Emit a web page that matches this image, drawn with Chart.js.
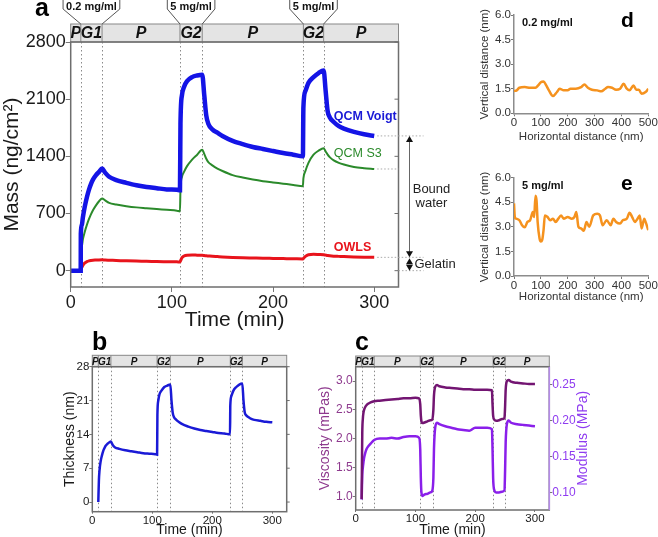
<!DOCTYPE html>
<html>
<head>
<meta charset="utf-8">
<script src="https://cdn.jsdelivr.net/npm/chart.js@4.4.1/dist/chart.umd.min.js"></script>
<style>
  body { margin: 0; background: #fff; width: 658px; height: 537px; position: relative; overflow: hidden; }
  canvas { position: absolute; }
</style>
</head>
<body>
<canvas id="chartA" width="460" height="335" style="left:0;top:0"></canvas>
<canvas id="chartB" width="320" height="207" style="left:0;top:330px"></canvas>
<canvas id="chartC" width="300" height="207" style="left:300px;top:330px"></canvas>
<canvas id="chartD" width="188" height="150" style="left:470px;top:0"></canvas>
<canvas id="chartE" width="188" height="150" style="left:470px;top:160px"></canvas>
<script>
const FONT = "'Liberation Sans', Arial, Helvetica, sans-serif";

// --- data: panels a + b share one time base (min) ---
const timeMin = [0, 9.9, 10, 11, 12, 14, 16, 18, 20, 22, 25, 28, 31, 34, 38, 45, 55, 65, 75, 85,
  95, 105, 108, 108.5, 110, 112, 115, 120, 125, 130, 132, 134, 136, 140, 145, 150, 160, 170, 180, 190,
  200, 210, 220, 229.5, 230, 232, 235, 240, 245, 250, 252, 254, 256, 260, 265, 270, 280, 290, 300];
const qcmVoigt = [0, 0, 450, 560, 650, 790, 900, 990, 1060, 1115, 1170, 1210, 1250, 1200, 1150, 1110, 1075, 1045, 1025, 1010,
  995, 990, 985, 1800, 2150, 2250, 2320, 2370, 2390, 2400, 2150, 1900, 1800, 1730, 1690, 1650, 1590, 1550, 1515, 1490,
  1465, 1440, 1420, 1400, 2000, 2200, 2300, 2370, 2420, 2450, 2200, 1950, 1880, 1820, 1770, 1740, 1700, 1670, 1650];
const qcmS3 = [0, 0, 200, 300, 380, 480, 560, 630, 690, 740, 800, 850, 885, 860, 830, 810, 790, 775, 765, 755,
  745, 735, 725, 1000, 1150, 1210, 1280, 1360, 1420, 1480, 1430, 1370, 1330, 1290, 1250, 1220, 1170, 1140, 1115, 1095,
  1080, 1065, 1050, 1035, 1130, 1220, 1320, 1420, 1470, 1500, 1460, 1420, 1390, 1350, 1320, 1300, 1270, 1255, 1245];
const owls = [0, 0, 10, 40, 65, 95, 110, 120, 125, 128, 130, 132, 133, 130, 128, 125, 120, 117, 115, 112,
  110, 108, 106, 120, 160, 180, 190, 192, 190, 188, 185, 182, 180, 176, 172, 168, 162, 158, 155, 152,
  150, 148, 146, 143, 150, 175, 195, 200, 198, 195, 190, 185, 182, 178, 175, 172, 168, 165, 163];
const thickness = [null, null, 0, 4.5, 6.5, 8.5, 9.6, 10.5, 11.1, 11.6, 12, 12.3, 12.5, 11.8, 11.3, 11, 10.7, 10.5, 10.3, 10.1,
  10, 9.9, 9.8, 18, 21, 22.3, 23, 23.8, 24.1, 24.3, 21, 18.5, 17.6, 17, 16.5, 16.1, 15.6, 15.2, 14.9, 14.7,
  14.5, 14.3, 14.2, 14, 20, 22, 23, 23.8, 24.3, 24.5, 21, 18.6, 18, 17.6, 17.2, 17, 16.8, 16.6, 16.5];

// --- panel c ---
const timeC = [10, 10.5, 11, 12, 13, 14, 16, 18, 20, 25, 31, 40, 50, 60, 70, 80, 90, 100, 106, 108,
  109, 110, 112, 115, 120, 125, 128, 130, 131, 133, 136, 140, 150, 160, 170, 180, 190, 200, 210, 220,
  228, 229, 230, 232, 235, 240, 245, 249, 250, 251, 253, 256, 260, 270, 280, 290, 300];
const viscosity = [0.95, 1.6, 2.1, 2.35, 2.45, 2.5, 2.55, 2.58, 2.6, 2.63, 2.65, 2.66, 2.67, 2.68, 2.69, 2.7, 2.7, 2.71, 2.7, 2.6,
  2.4, 2.3, 2.27, 2.28, 2.3, 2.32, 2.33, 2.5, 2.75, 2.9, 2.93, 2.91, 2.89, 2.88, 2.87, 2.86, 2.86, 2.85, 2.85, 2.85,
  2.84, 2.6, 2.4, 2.33, 2.31, 2.32, 2.34, 2.36, 2.55, 2.85, 3.0, 3.02, 2.99, 2.97, 2.96, 2.95, 2.95];
const modulus = [0.09, 0.11, 0.125, 0.135, 0.142, 0.148, 0.155, 0.16, 0.163, 0.168, 0.173, 0.175, 0.175, 0.176, 0.175, 0.177, 0.178, 0.178, 0.176, 0.16,
  0.12, 0.1, 0.095, 0.097, 0.098, 0.1, 0.102, 0.12, 0.16, 0.19, 0.197, 0.195, 0.192, 0.19, 0.188, 0.187, 0.186, 0.19, 0.19, 0.19,
  0.188, 0.16, 0.12, 0.103, 0.1, 0.1, 0.101, 0.103, 0.13, 0.17, 0.195, 0.2, 0.197, 0.195, 0.194, 0.193, 0.192];

// --- panels d, e (AFM profiles) ---
const distD = [0, 10, 20, 40, 60, 80, 90, 100, 110, 120, 130, 145, 160, 170, 185, 200, 210, 230, 250, 262,
  275, 290, 310, 325, 340, 350, 365, 380, 395, 408, 420, 430, 445, 455, 465, 475, 490, 500];
const heightD = [1.36, 1.4, 1.56, 1.6, 1.56, 1.56, 1.7, 1.9, 1.94, 1.7, 1.4, 1.05, 1.3, 1.5, 1.4, 1.4, 1.5, 1.5, 1.6, 1.76,
  1.56, 1.44, 1.4, 1.34, 1.5, 1.6, 1.56, 1.44, 1.5, 1.8, 1.5, 1.4, 1.7, 1.44, 1.44, 1.2, 1.3, 1.5];
const distE = [0, 3, 8, 20, 30, 40, 50, 60, 70, 75, 80, 84, 88, 95, 100, 105, 110, 115, 125, 135,
  145, 155, 165, 175, 185, 200, 215, 225, 232, 240, 250, 260, 270, 280, 295, 310, 320, 330, 345, 360,
  370, 380, 395, 405, 420, 430, 440, 450, 460, 468, 475, 485, 490, 500];
const heightE = [4.43, 3.6, 3.5, 3.4, 3.1, 2.97, 3.3, 3.4, 3.9, 3.6, 4.9, 4.6, 3.3, 2.3, 2.1, 2.2, 2.8, 3.7, 3.6, 3.4,
  3.5, 3.3, 3.5, 3.7, 3.5, 3.6, 3.5, 3.6, 3.9, 3.0, 2.9, 2.76, 3.3, 3.0, 3.7, 3.8, 3.7, 3.1, 3.4, 3.1,
  3.5, 3.3, 3.2, 3.4, 3.5, 3.86, 3.6, 3.3, 3.5, 3.7, 2.9, 3.5, 3.3, 2.8];

// --- phases, concentrations, ticks ---
const phaseEdges = [0, 10, 31, 108, 130, 230, 250, 324];
const phaseNames = ['P', 'G1', 'P', 'G2', 'P', 'G2', 'P'];
const concText = ['0.2 mg/ml', '5 mg/ml', '5 mg/ml'];
const concStart = [10, 108, 230];
const concEnd = [31, 130, 250];
const timeTicks = [0, 100, 200, 300];
const massTicks = [0, 700, 1400, 2100, 2800];
const thickTicks = [0, 7, 14, 21, 28];
const viscTicks = [1.0, 1.5, 2.0, 2.5, 3.0];
const modTicks = [0.10, 0.15, 0.20, 0.25];
const distTicks = [0, 100, 200, 300, 400, 500];
const heightTicks = [0, 1.5, 3.0, 4.5, 6.0];

function series(xs, ys, color, width, axisId) {
  return {
    data: xs.map((t, i) => ({ x: t, y: ys[i] })),
    borderColor: color, backgroundColor: color, borderWidth: width,
    pointRadius: 0, fill: false, cubicInterpolationMode: 'monotone',
    yAxisID: axisId || 'y'
  };
}

function linAxis(o) {
  return {
    type: 'linear', position: o.position, min: o.min, max: o.max,
    afterBuildTicks: s => { s.ticks = o.ticks.map(v => ({ value: v })); },
    afterFit: s => { if (o.horizontal) s.height = o.size; else s.width = o.size; },
    grid: { display: true, drawOnChartArea: false, drawTicks: true, tickLength: o.tickLen, color: '#777', lineWidth: 1 },
    border: { display: !!o.border, color: '#8c8c8c', width: 1.5 },
    ticks: {
      color: o.color || '#1a1a1a', padding: o.pad || 0, autoSkip: false, maxRotation: 0,
      font: { family: FONT, size: o.fontSize }, callback: o.fmt || (v => v)
    },
    title: {
      display: !!o.title, text: o.title, color: o.titleColor || o.color || '#1a1a1a',
      font: { family: FONT, size: o.titleSize, lineHeight: o.titleLH || 1.2 }, padding: o.titlePad
    }
  };
}

function baseOptions(padding, scales) {
  return {
    responsive: false, animation: false, devicePixelRatio: 1, events: [],
    layout: { padding },
    plugins: { legend: { display: false }, tooltip: { enabled: false } },
    scales
  };
}

// phase band on top, dotted phase boundaries, boxed frame
function phasePlugin(bandH, fontSize, spine) {
  return {
    id: 'phases',
    beforeDatasetsDraw(chart) {
      const { ctx, chartArea: area, scales: { x } } = chart;
      ctx.save();
      ctx.strokeStyle = '#8a8a8a';
      ctx.lineWidth = 1;
      ctx.setLineDash([1.5, 2.5]);
      phaseEdges.slice(1, -1).forEach(t => {
        const px = Math.round(x.getPixelForValue(t)) + 0.5;
        ctx.beginPath(); ctx.moveTo(px, area.top); ctx.lineTo(px, area.bottom); ctx.stroke();
      });
      ctx.restore();
    },
    afterDraw(chart) {
      const { ctx, chartArea: area, scales: { x, y } } = chart;
      const top = area.top - bandH;
      const w = area.right - area.left;
      ctx.save();
      ctx.fillStyle = '#e4e4e4';
      ctx.fillRect(area.left, top, w, bandH);
      ctx.strokeStyle = '#888';
      ctx.lineWidth = 1;
      ctx.strokeRect(area.left, top, w, bandH);
      ctx.font = `italic bold ${fontSize}px ${FONT}`;
      ctx.fillStyle = '#111';
      ctx.textAlign = 'center';
      ctx.textBaseline = 'middle';
      phaseNames.forEach((name, i) => {
        const x0 = x.getPixelForValue(phaseEdges[i]);
        const x1 = Math.min(x.getPixelForValue(phaseEdges[i + 1]), area.right);
        if (i > 0) {
          ctx.beginPath(); ctx.moveTo(x0, top); ctx.lineTo(x0, area.top); ctx.stroke();
        }
        ctx.fillText(name, (x0 + x1) / 2, top + bandH / 2 + 1);
      });
      ctx.strokeStyle = '#6e6e6e';
      ctx.lineWidth = 1.5;
      ctx.strokeRect(area.left, area.top, w, area.bottom - area.top);
      if (spine) {
        ctx.lineWidth = 1;
        spine.values.forEach(v => {
          const py = y.getPixelForValue(v);
          ctx.beginPath(); ctx.moveTo(area.right, py); ctx.lineTo(area.right + spine.len, py); ctx.stroke();
        });
        if (spine.color) {
          ctx.strokeStyle = spine.color;
          ctx.lineWidth = 1.5;
          ctx.beginPath(); ctx.moveTo(area.right, area.top); ctx.lineTo(area.right, area.bottom); ctx.stroke();
        }
      }
      ctx.restore();
    }
  };
}

function letterPlugin(letter, px, py, size) {
  return {
    id: 'letter',
    afterDraw(chart) {
      const ctx = chart.ctx;
      ctx.save();
      ctx.font = `bold ${size}px ${FONT}`;
      ctx.fillStyle = '#000';
      ctx.textAlign = 'left';
      ctx.textBaseline = 'alphabetic';
      ctx.fillText(letter, px, py);
      ctx.restore();
    }
  };
}

function sampleLabel(text) {
  return {
    id: 'sample',
    afterDraw(chart) {
      const { ctx, chartArea: area } = chart;
      ctx.save();
      ctx.font = `bold 11px ${FONT}`;
      ctx.fillStyle = '#111';
      ctx.textBaseline = 'middle';
      ctx.fillText(text, area.left + 8, area.top + 8);
      ctx.restore();
    }
  };
}

// right-hand title of panel c reads bottom-to-top like the left one
const modulusTitle = {
  id: 'modulusTitle',
  afterDraw(chart) {
    const { ctx, chartArea: area } = chart;
    ctx.save();
    ctx.translate(283, (area.top + area.bottom) / 2);
    ctx.rotate(-Math.PI / 2);
    ctx.font = `14px ${FONT}`;
    ctx.fillStyle = '#8f3cf0';
    ctx.textAlign = 'center';
    ctx.textBaseline = 'middle';
    ctx.fillText('Modulus (MPa)', 0, 0);
    ctx.restore();
  }
};

function arrowHead(ctx, x, y, dir) {
  ctx.beginPath();
  ctx.moveTo(x, y);
  ctx.lineTo(x - 3.5, y - dir * 6);
  ctx.lineTo(x + 3.5, y - dir * 6);
  ctx.closePath();
  ctx.fill();
}

const massNotes = {
  id: 'massNotes',
  afterDraw(chart) {
    const { ctx, chartArea: area, scales: { x, y } } = chart;
    const bandTop = area.top - 18;
    ctx.save();
    // concentration call-outs above the phase band
    ctx.font = `bold 11px ${FONT}`;
    ctx.strokeStyle = '#555';
    ctx.lineWidth = 1;
    ctx.fillStyle = '#111';
    ctx.textAlign = 'center';
    ctx.textBaseline = 'middle';
    concText.forEach((txt, i) => {
      const x0 = x.getPixelForValue(concStart[i]);
      const x1 = x.getPixelForValue(concEnd[i]);
      const cx = (x0 + x1) / 2;
      const half = ctx.measureText(txt).width / 2 + 3;
      ctx.beginPath();
      ctx.moveTo(cx - half, 0); ctx.lineTo(cx - half, 9); ctx.lineTo(x0, bandTop);
      ctx.moveTo(cx + half, 0); ctx.lineTo(cx + half, 9); ctx.lineTo(x1, bandTop);
      ctx.stroke();
      ctx.fillText(txt, cx, 7);
    });

    // series labels
    ctx.textAlign = 'left';
    ctx.font = `bold 12.5px ${FONT}`;
    ctx.fillStyle = '#1a1ad6';
    ctx.fillText('QCM Voigt', x.getPixelForValue(260), y.getPixelForValue(1885));
    ctx.font = `12.5px ${FONT}`;
    ctx.fillStyle = '#2b8a2b';
    ctx.fillText('QCM S3', x.getPixelForValue(260), y.getPixelForValue(1430));
    ctx.font = `bold 12.5px ${FONT}`;
    ctx.fillStyle = '#e8141c';
    ctx.fillText('OWLS', x.getPixelForValue(260), y.getPixelForValue(286));

    // bound water / gelatin brackets on the right
    const xEnd = x.getPixelForValue(timeMin[timeMin.length - 1]) + 3;
    const yV = y.getPixelForValue(qcmVoigt[qcmVoigt.length - 1]);
    const yS = y.getPixelForValue(qcmS3[qcmS3.length - 1]);
    const yO = y.getPixelForValue(owls[owls.length - 1]);
    const y0 = y.getPixelForValue(0);
    const ax = area.right + 11;
    ctx.strokeStyle = '#aaa';
    ctx.setLineDash([1.5, 2]);
    [[xEnd, yV, area.right + 25], [xEnd, yS, area.right], [xEnd, yO, area.right + 25], [area.right, y0, area.right + 25]]
      .forEach(([a, py, b]) => { ctx.beginPath(); ctx.moveTo(a, py); ctx.lineTo(b, py); ctx.stroke(); });
    ctx.setLineDash([]);
    ctx.strokeStyle = '#666';
    ctx.fillStyle = '#111';
    ctx.beginPath(); ctx.moveTo(ax, yV + 5); ctx.lineTo(ax, yO - 5); ctx.stroke();
    arrowHead(ctx, ax, yV, -1);
    arrowHead(ctx, ax, yO, 1);
    arrowHead(ctx, ax, yO + 1, -1);
    arrowHead(ctx, ax, y0, 1);
    ctx.font = `13px ${FONT}`;
    ctx.fillStyle = '#222';
    ctx.textAlign = 'center';
    const mid = (yV + yO) / 2;
    ctx.fillText('Bound', ax + 22, mid - 7);
    ctx.fillText('water', ax + 22, mid + 7);
    ctx.textAlign = 'left';
    ctx.fillText('Gelatin', ax + 5, (yO + y0) / 2);
    ctx.restore();
  }
};

// ---- panel a ----
new Chart(document.getElementById('chartA'), {
  type: 'line',
  data: { datasets: [
    series(timeMin, qcmVoigt, '#1414e6', 4.5),
    series(timeMin, qcmS3, '#2b8a2b', 2),
    series(timeMin, owls, '#e8141c', 3)
  ] },
  options: baseOptions({ top: 42, right: 61.5, bottom: 0, left: 0 }, {
    x: linAxis({ horizontal: true, position: 'bottom', min: 0, max: 324, ticks: timeTicks, fontSize: 18, tickLen: 5,
      size: 48, title: 'Time (min)', titleSize: 21, titlePad: { top: 0, bottom: 2 } }),
    y: linAxis({ position: 'left', min: -200, max: 2800, ticks: massTicks, fontSize: 18, tickLen: 5,
      size: 70.7, title: 'Mass (ng/cm²)', titleSize: 21, titlePad: { top: 0, bottom: 0 } })
  }),
  plugins: [phasePlugin(18, 16, { values: massTicks, len: -4 }), massNotes, letterPlugin('a', 35, 16, 25)]
});

// ---- panel b ----
new Chart(document.getElementById('chartB'), {
  type: 'line',
  data: { datasets: [series(timeMin, thickness, '#1a1ad6', 2.5)] },
  options: baseOptions({ top: 36.7, right: 33.3, bottom: 0, left: 0 }, {
    x: linAxis({ horizontal: true, position: 'bottom', min: 0, max: 324, ticks: timeTicks, fontSize: 11.5, tickLen: 2,
      size: 25.3, title: 'Time (min)', titleSize: 14, titleLH: 1, titlePad: { top: 0, bottom: 0 } }),
    y: linAxis({ position: 'left', min: -2, max: 28, ticks: thickTicks, fontSize: 11.5, tickLen: 3,
      size: 92.3, title: 'Thickness (nm)', titleSize: 14, titlePad: { top: 61.6, bottom: 0 } })
  }),
  plugins: [phasePlugin(11.4, 10, { values: thickTicks, len: 3 }), letterPlugin('b', 92, 20, 25)]
});

// ---- panel c ----
new Chart(document.getElementById('chartC'), {
  type: 'line',
  data: { datasets: [
    series(timeC, viscosity, '#731572', 2.5, 'y'),
    series(timeC, modulus, '#8a1fea', 2.5, 'y2')
  ] },
  options: baseOptions({ top: 36.7, right: 0, bottom: 0, left: 0 }, {
    x: linAxis({ horizontal: true, position: 'bottom', min: 0, max: 324, ticks: timeTicks, fontSize: 11.5, tickLen: 2,
      size: 27, title: 'Time (min)', titleSize: 14, titleLH: 1, titlePad: { top: 0, bottom: 0 } }),
    y: linAxis({ position: 'left', min: 0.76, max: 3.25, ticks: viscTicks, fmt: v => v.toFixed(1), fontSize: 12,
      color: '#8e3a8e', tickLen: 3, size: 55.7, title: 'Viscosity (mPas)', titleSize: 14,
      titlePad: { top: 16.6, bottom: 0 } }),
    y2: linAxis({ position: 'right', min: 0.0755, max: 0.275, ticks: modTicks, fmt: v => v.toFixed(2), fontSize: 12,
      color: '#8f3cf0', tickLen: 3, size: 50.7 })
  }),
  plugins: [phasePlugin(10.7, 10, { values: [], len: 0, color: '#b48ae8' }), modulusTitle, letterPlugin('c', 55, 20, 25)]
});

// ---- panels d, e ----
function profileChart(id, xs, ys, label, letter, padTop, xSize) {
  new Chart(document.getElementById(id), {
    type: 'line',
    data: { datasets: [series(xs, ys, '#f5921e', 2.5)] },
    options: baseOptions({ top: padTop, right: 9.7, bottom: 0, left: 0 }, {
      x: linAxis({ horizontal: true, position: 'bottom', min: 0, max: 500, ticks: distTicks, fontSize: 11.5, tickLen: 3,
        size: xSize, border: true, color: '#333', title: 'Horizontal distance (nm)', titleSize: 11.5,
        titlePad: { top: 0, bottom: 6.4 } }),
      y: linAxis({ position: 'left', min: 0, max: 6, ticks: heightTicks, fmt: v => v.toFixed(1), fontSize: 11.5, tickLen: 3,
        size: 44, border: true, color: '#333', title: 'Vertical distance (nm)', titleSize: 11.5,
        titlePad: { top: 8, bottom: 0 } })
    }),
    plugins: [sampleLabel(label), letterPlugin(letter, 151, padTop + 12, 21)]
  });
}
profileChart('chartD', distD, heightD, '0.2 mg/ml', 'd', 15, 36.7);
profileChart('chartE', distE, heightE, '5 mg/ml', 'e', 17.7, 34);
</script>
</body>
</html>
